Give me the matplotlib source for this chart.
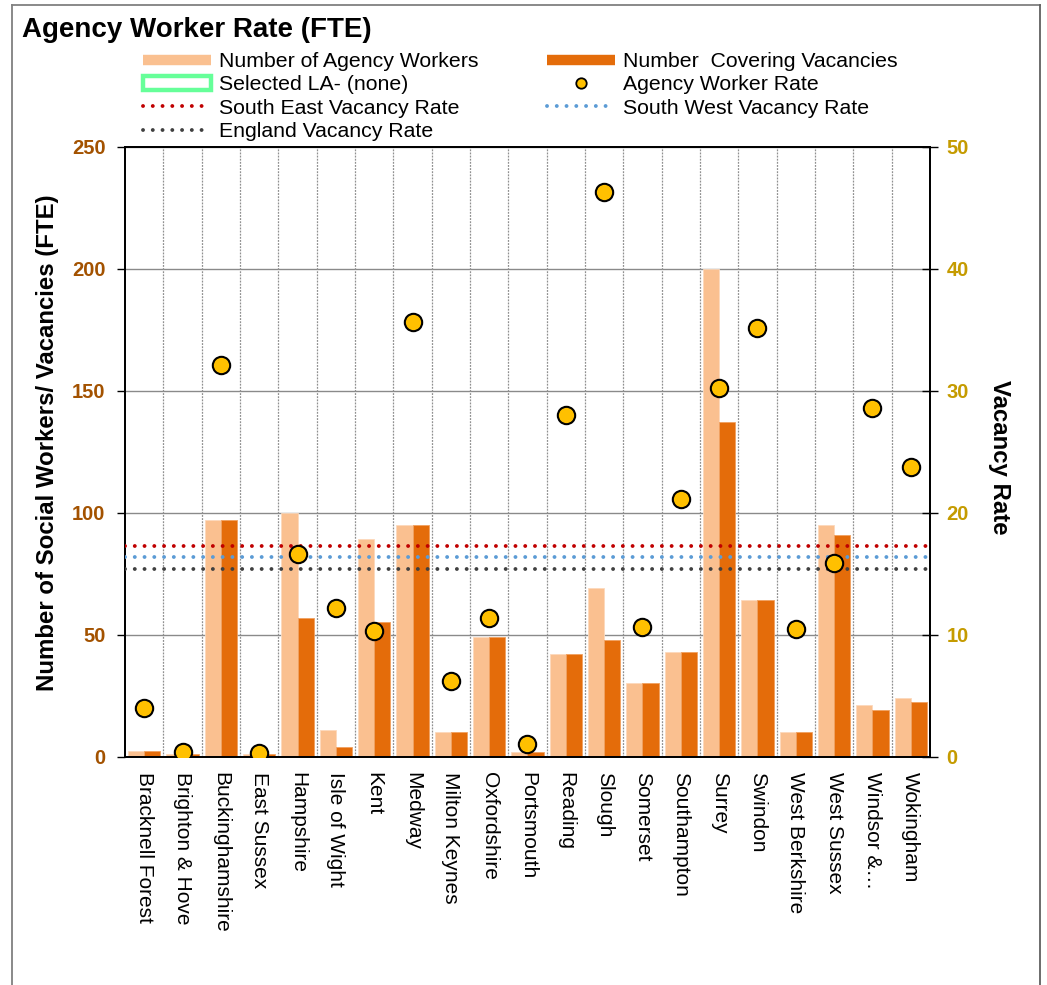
import numpy as np
import matplotlib
matplotlib.use("Agg")
import matplotlib.pyplot as plt
from matplotlib.lines import Line2D
from matplotlib.patches import Patch

plt.rcParams['font.family'] = ['Liberation Sans', 'DejaVu Sans']

# ---------------- data ----------------
categories = ["Bracknell Forest", "Brighton & Hove", "Buckinghamshire", "East Sussex",
              "Hampshire", "Isle of Wight", "Kent", "Medway", "Milton Keynes",
              "Oxfordshire", "Portsmouth", "Reading", "Slough", "Somerset",
              "Southampton", "Surrey", "Swindon", "West Berkshire", "West Sussex",
              "Windsor &\u2026", "Wokingham"]
agency_workers = [2.5, 1, 97, 1, 100, 11, 89, 95, 10, 49, 2, 42, 69, 30, 43, 200, 64, 10, 95, 21, 24]
covering_vacancies = [2.5, 1, 97, 1, 57, 4, 55, 95, 10, 49, 2, 42, 48, 30, 43, 137, 64, 10, 91, 19, 22.5]
agency_rate = [4.0, 0.4, 32.1, 0.3, 16.6, 12.2, 10.3, 35.6, 6.2, 11.4, 1.0, 28.0, 46.3, 10.6,
               21.1, 30.2, 35.1, 10.5, 15.9, 28.6, 23.7]
south_east_rate = 17.3
south_west_rate = 16.4
england_rate = 15.4

# ---------------- figure ----------------
W, H = 1047, 985
fig = plt.figure(figsize=(W / 100, H / 100), dpi=100)
left, right, top, bottom = 125, 930, 146.5, 756.7
ax = fig.add_axes([left / W, 1 - bottom / H, (right - left) / W, (bottom - top) / H])

x = np.arange(len(categories))
light = '#FAC090'
dark = '#E46C0A'
ax.bar(x - 0.21, agency_workers, width=0.42, color=light, edgecolor='#FCD9BC', lw=0.6, zorder=2)
ax.bar(x + 0.21, covering_vacancies, width=0.42, color=dark, edgecolor='#F0A060', lw=0.6, zorder=2)

ax.set_xlim(-0.5, len(categories) - 0.5)
ax.set_ylim(0, 250)
ax.set_yticks(np.arange(0, 251, 50))
ax.set_xticks(x)
ax.set_xticklabels(categories, rotation=-90, ha='center', va='top', fontsize=15)
ax.tick_params(axis='x', length=0, pad=11)
ax.tick_params(axis='y', direction='out', length=6, width=1, pad=8,
               labelsize=14.5, labelcolor='#A35200')
for t in ax.get_yticklabels():
    t.set_fontweight('bold')

# gridlines
for yv in np.arange(50, 251, 50):
    ax.axhline(yv, color='#8a8a8a', lw=1, zorder=0)
for xv in np.arange(0.5, len(categories) - 0.5, 1):
    ax.axvline(xv, color='#909090', lw=0.9, ls=(0, (1.5, 1)), zorder=0)

for s in ax.spines.values():
    s.set_color('black')
    s.set_linewidth(1.3)

ax2 = ax.twinx()
ax2.set_ylim(0, 50)
ax2.set_yticks(np.arange(0, 51, 10))
ax2.tick_params(axis='y', direction='inout', length=12, width=1, pad=6,
                labelsize=14.5, labelcolor='#C59B00')
for t in ax2.get_yticklabels():
    t.set_fontweight('bold')
for s in ax2.spines.values():
    s.set_color('black')
    s.set_linewidth(1.3)

dot_style = dict(ls=(0, (0.01, 2.5)), lw=2.8, dash_capstyle='round', zorder=3)
ax2.axhline(south_east_rate, color='#C00000', **dot_style)
ax2.axhline(south_west_rate, color='#5B9BD5', **dot_style)
ax2.axhline(england_rate, color='#404040', **dot_style)

ax2.plot(x, agency_rate, 'o', ls='none', ms=12.5, mfc='#FFC000', mec='black', mew=1.5, zorder=5)

# labels
fig.text(48 / W, 1 - 443 / H, 'Number of Social Workers/ Vacancies (FTE)', rotation=90,
         ha='center', va='center', fontsize=17.3, fontweight='bold')
fig.text(1000 / W, 1 - 457 / H, 'Vacancy Rate', rotation=270,
         ha='center', va='center', fontsize=17.3, fontweight='bold')
fig.text(22 / W, 1 - 30 / H, 'Agency Worker Rate (FTE)', ha='left', va='center',
         fontsize=20, fontweight='bold')

# legend
handles = [
    Line2D([], [], color=light, lw=7.5, solid_capstyle='butt'),
    Patch(facecolor='white', edgecolor='#66FF99', linewidth=3.2),
    Line2D([], [], color='#C00000', **dot_style),
    Line2D([], [], color='#404040', **dot_style),
    Line2D([], [], color=dark, lw=7.5, solid_capstyle='butt'),
    Line2D([], [], marker='o', ls='none', ms=7.5, mfc='#FFC000', mec='black', mew=1.3),
    Line2D([], [], color='#5B9BD5', **dot_style),
]
labels = ['Number of Agency Workers', 'Selected LA- (none)', 'South East Vacancy Rate',
          'England Vacancy Rate', 'Number  Covering Vacancies', 'Agency Worker Rate',
          'South West Vacancy Rate']
fig.legend(handles, labels, loc='upper left', bbox_to_anchor=(143 / W, 1 - 52 / H),
           ncol=2, frameon=False, fontsize=15.3, handlelength=3.2, handletextpad=0.38,
           columnspacing=3.2, labelspacing=0.21, handleheight=0.7, borderpad=0,
           borderaxespad=0)

# figure frame
frame_kw = dict(transform=fig.transFigure, lw=1.3)
fig.add_artist(Line2D([12 / W, 12 / W], [0, 1 - 5 / H], color='#808080', **frame_kw))
fig.add_artist(Line2D([12 / W, 1040 / W], [1 - 5 / H, 1 - 5 / H], color='#808080', **frame_kw))
fig.add_artist(Line2D([1040 / W, 1040 / W], [0, 1 - 5 / H], color='#606060', **frame_kw))

fig.savefig('out.png', dpi=100, facecolor='white')
